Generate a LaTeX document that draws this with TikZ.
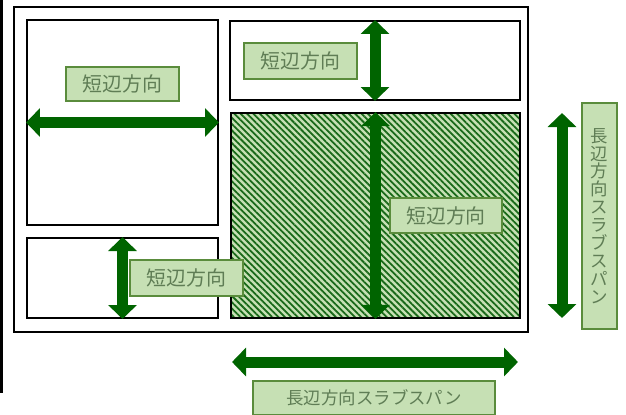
\documentclass[tikz,border=0pt]{standalone}
\usepackage{fontspec}
\setmainfont{Noto Sans CJK JP}
\usetikzlibrary{arrows.meta,patterns.meta,positioning}
\definecolor{arrowgreen}{RGB}{0,100,0}
\definecolor{labelfill}{RGB}{198,224,180}
\definecolor{labeldraw}{RGB}{90,140,60}
\definecolor{labeltext}{RGB}{95,125,85}
\definecolor{hatchgreen}{RGB}{25,105,25}

\begin{document}
\begin{tikzpicture}[x=1bp,y=1bp,
  panel/.style={draw=black,line width=2bp,inner sep=0pt},
  dimarrow/.style={draw=arrowgreen,line width=11bp,line cap=butt,
    {Triangle[length=14bp,width=28bp]}-{Triangle[length=14bp,width=28bp]}},
  lbl/.style={draw=labeldraw,fill=labelfill,text=labeltext,line width=1.5bp,
    inner sep=0pt,font=\fontsize{20}{24}\selectfont},
  longlbl/.style={lbl,font=\fontsize{17.5}{18}\selectfont}]
\useasboundingbox (0,0) rectangle (626,414);

% frame and slab panels
\draw[line width=3bp] (1.5,414) -- (1.5,21);
\node[panel,line width=2.5bp,minimum width=514bp,minimum height=325bp] (frame) at (271,244.5) {};
\node[panel,minimum width=191bp,minimum height=205bp] (p_lt) at (122.5,291.5) {};
\node[panel,minimum width=191bp,minimum height=80bp] (p_lb) at (122.5,136) {};
\node[panel,minimum width=290bp,minimum height=79bp] (p_rt) at (375,353.5) {};
\node[panel,minimum width=289bp,minimum height=205bp,
  preaction={fill=labelfill},
  pattern={Lines[angle=-45,distance=4.5bp,line width=1.8bp]},pattern color=hatchgreen] (p_rb) at (375.5,198.5) {};

\coordinate (s_top) at (562,301);
\coordinate (s_bot) at (562,96);
\coordinate (b_l) at (232,52);
\coordinate (b_r) at (518,52);

% arrows
\draw[dimarrow] (p_lt.west) -- (p_lt.east);
\draw[dimarrow] (p_lb.north) -- (p_lb.south);
\draw[dimarrow] (p_rt.north) -- (p_rt.south);
\draw[dimarrow] (p_rb.north) -- (p_rb.south);
\draw[dimarrow] (s_top) -- (s_bot);
\draw[dimarrow] (b_l) -- (b_r);

% labels
\node[lbl,minimum width=113bp,minimum height=34bp] (l_lt) at (122.5,330) {短辺方向};
\node[lbl,minimum width=113bp,minimum height=36bp] (l_rt) at (300.5,353) {短辺方向};
\node[lbl,minimum width=112bp,minimum height=35bp] (l_rb) at (446,198.5) {短辺方向};
\node[lbl,minimum width=113bp,minimum height=36bp] (l_lb) at (186.5,136) {短辺方向};
\node[longlbl,minimum width=35bp,minimum height=226bp,align=center] (l_side) at (599.5,198)
  {長\\辺\\方\\向\\ス\\ラ\\ブ\\ス\\パ\\ン};
\node[longlbl,minimum width=242bp,minimum height=34bp] (l_bot) at (374,16) {長辺方向スラブスパン};
\end{tikzpicture}
\end{document}
